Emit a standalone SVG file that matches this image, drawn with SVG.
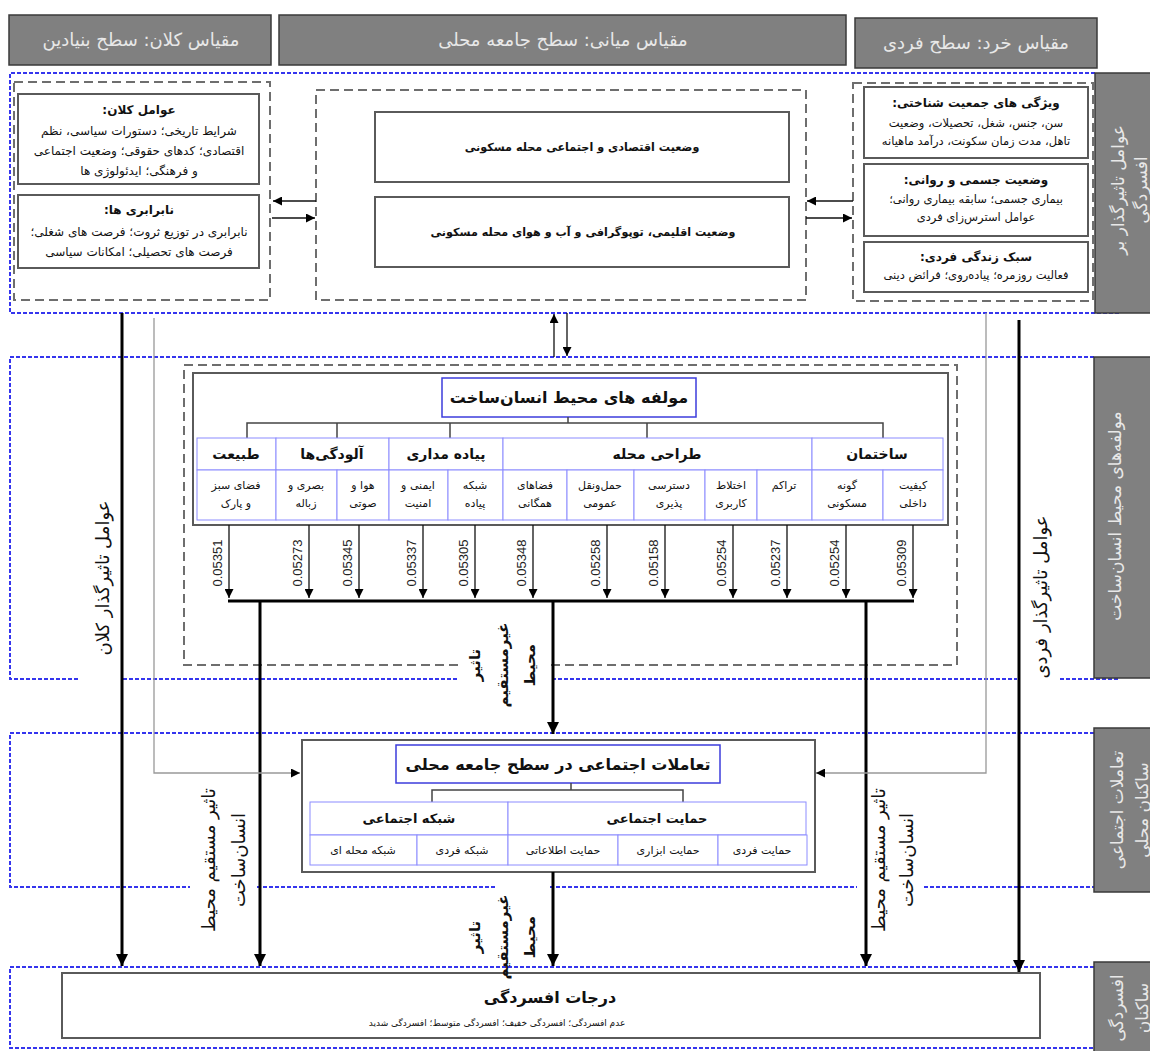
<svg xmlns="http://www.w3.org/2000/svg" width="1150" height="1051" viewBox="0 0 1150 1051">
<defs>
<style>
text{font-family:"DejaVu Sans",sans-serif;fill:#111;}
.fa{direction:rtl;}
.c{text-anchor:middle;}
.r{dominant-baseline:central;}
.hdr{fill:#808080;stroke:#3a3a3a;stroke-width:1.5;}
.ht{fill:#e8e8e8;font-size:18px;}
.st{fill:#e8e8e8;font-size:17px;}
.sec{fill:none;stroke:#3535ee;stroke-width:2;stroke-dasharray:4 2;}
.grp{fill:none;stroke:#6e6e6e;stroke-width:2;stroke-dasharray:9 5;}
.box{fill:#fff;stroke:#5a5a5a;stroke-width:2;}
.cell{fill:#fff;stroke:#8c8cff;stroke-width:1;}
.ttl{fill:#fff;stroke:#3c3cdc;stroke-width:1.5;}
.tree{fill:none;stroke:#444;stroke-width:1.5;}
.thin{fill:none;stroke:#111;stroke-width:1.3;}
.thick{fill:none;stroke:#000;stroke-width:3;}
.gray{fill:none;stroke:#999;stroke-width:1.3;}
.b{font-weight:bold;}
.s9{font-size:9px;}
.s11{font-size:11px;}
.s115{font-size:11.5px;}
.s12{font-size:12px;}
.m{font-size:11.2px;}
.s13{font-size:13px;}
.s14{font-size:14px;}
.s15{font-size:15px;}
.s16{font-size:16px;}
.s17{font-size:17px;}
.s18{font-size:18px;}
.val{font-family:"Liberation Sans",sans-serif;font-size:13px;fill:#222;}
</style>
<marker id="ah" markerUnits="userSpaceOnUse" markerWidth="9" markerHeight="9" refX="9" refY="4.5" orient="auto"><path d="M0,0 L9,4.5 L0,9 z" fill="#000"/></marker>
<marker id="ahb" markerUnits="userSpaceOnUse" markerWidth="12" markerHeight="12" refX="12" refY="6" orient="auto"><path d="M0,0 L12,6 L0,12 z" fill="#000"/></marker>
</defs>
<rect width="1150" height="1051" fill="#fff"/>

<!-- sections -->
<g id="sections">
<path class="sec" d="M1095,73 H10 V313 H1120"/>
<path class="sec" d="M1094,357 H10 V679 H80 M123,679 H458 M552,679 H1017 M1060,679 H1120"/>
<path class="sec" d="M1094,733 H10 V887 H190 M257,887 H495 M550,887 H857 M924,887 H1094"/>
<path class="sec" d="M1094,967 H10 V1048 H1094"/>
</g>

<!-- headers -->
<g id="header-macro"><rect class="hdr" x="9" y="15" width="262" height="50"/><text class="ht fa c" x="141" y="46">مقیاس کلان: سطح بنیادین</text></g>
<g id="header-meso"><rect class="hdr" x="279" y="15" width="567" height="50"/><text class="ht fa c" x="563" y="46">مقیاس میانی: سطح جامعه محلی</text></g>
<g id="header-micro"><rect class="hdr" x="855" y="18" width="242" height="50"/><text class="ht fa c" x="976" y="49">مقیاس خرد: سطح فردی</text></g>

<!-- side labels -->
<g id="side-factors"><rect class="hdr" x="1095" y="73" width="70" height="240"/>
<text class="st fa c r" transform="translate(1118,190) rotate(-90)">عوامل تاثیرگذار بر</text>
<text class="st fa c r" transform="translate(1141,190) rotate(-90)">افسردگی</text></g>
<g id="side-built"><rect class="hdr" x="1094" y="357" width="70" height="321"/>
<text class="st fa c r" transform="translate(1115,516) rotate(-90)">مولفه‌های محیط انسان‌ساخت</text></g>
<g id="side-social"><rect class="hdr" x="1094" y="728" width="70" height="164"/>
<text class="st fa c r" transform="translate(1117,810) rotate(-90)">تعاملات اجتماعی</text>
<text class="st fa c r" transform="translate(1142,810) rotate(-90)">ساکنان محلی</text></g>
<g id="side-depression"><rect class="hdr" x="1094" y="962" width="70" height="100"/>
<text class="st fa c r" transform="translate(1117,1008) rotate(-90)">افسردگی</text>
<text class="st fa c r" transform="translate(1142,1008) rotate(-90)">ساکنان</text></g>

<!-- macro group -->
<g id="macro-group">
<rect class="grp" x="14" y="82" width="256" height="218"/>
<g id="macro-factors"><rect class="box" x="18" y="94" width="241" height="90"/>
<text class="fa c b s12" x="139" y="114">عوامل کلان:</text>
<text class="fa c s12" x="139" y="135">شرایط تاریخی؛ دستورات سیاسی، نظم</text>
<text class="fa c s12" x="139" y="155">اقتصادی؛ کدهای حقوقی؛ وضعیت اجتماعی</text>
<text class="fa c s12" x="139" y="175">و فرهنگی؛ ایدئولوژی ها</text></g>
<g id="inequalities"><rect class="box" x="18" y="195" width="241" height="73"/>
<text class="fa c b s12" x="139" y="214">نابرابری ها:</text>
<text class="fa c s12" x="139" y="236">نابرابری در توزیع ثروت؛ فرصت های شغلی؛</text>
<text class="fa c s12" x="139" y="256">فرصت های تحصیلی؛ امکانات سیاسی</text></g>
</g>

<!-- meso group -->
<g id="meso-group">
<rect class="grp" x="316" y="90" width="490" height="210"/>
<g id="socioeconomic"><rect class="box" x="375" y="112" width="414" height="70"/>
<text class="fa c b m" x="582" y="151">وضعیت اقتصادی و اجتماعی محله مسکونی</text></g>
<g id="climate"><rect class="box" x="375" y="197" width="414" height="70"/>
<text class="fa c b m" x="583" y="236">وضعیت اقلیمی، توپوگرافی و آب و هوای محله مسکونی</text></g>
</g>

<!-- micro group -->
<g id="micro-group">
<rect class="grp" x="853" y="83" width="240" height="218"/>
<g id="demographics"><rect class="box" x="864" y="87" width="224" height="71"/>
<text class="fa c b s12" x="976" y="107">ویژگی های جمعیت شناختی:</text>
<text class="fa c s115" x="976" y="127">سن، جنس، شغل، تحصیلات، وضعیت</text>
<text class="fa c s115" x="976" y="145">تاهل، مدت زمان سکونت، درآمد ماهیانه</text></g>
<g id="health"><rect class="box" x="864" y="164" width="224" height="72"/>
<text class="fa c b s12" x="976" y="184">وضعیت جسمی و روانی:</text>
<text class="fa c s115" x="976" y="203">بیماری جسمی؛ سابقه بیماری روانی؛</text>
<text class="fa c s115" x="976" y="221">عوامل استرس‌زای فردی</text></g>
<g id="lifestyle"><rect class="box" x="864" y="242" width="224" height="50"/>
<text class="fa c b s12" x="976" y="261">سبک زندگی فردی:</text>
<text class="fa c s115" x="976" y="279">فعالیت روزمره؛ پیاده‌روی؛ فرائض دینی</text></g>
</g>

<!-- built environment components -->
<g id="built-environment">
<path class="grp" d="M458,665 H184 V365 H957 V665 H550"/>
<rect class="box" x="193" y="373" width="755" height="152"/>
<rect class="ttl" x="442" y="378" width="254" height="39"/>
<text class="fa c b s16" x="569" y="403">مولفه های محیط انسان‌ساخت</text>
<path class="tree" d="M568,417 V423 M247,438 V423 H883 V438 M337,423 V438 M450,423 V438 M647,423 V438"/>
<g id="categories">
<rect class="cell" x="197" y="438" width="79" height="32"/><text class="fa c b s14" x="236" y="459">طبیعت</text>
<rect class="cell" x="276" y="438" width="113" height="32"/><text class="fa c b s14" x="332" y="459">آلودگی‌ها</text>
<rect class="cell" x="389" y="438" width="114" height="32"/><text class="fa c b s14" x="446" y="459">پیاده مداری</text>
<rect class="cell" x="503" y="438" width="309" height="32"/><text class="fa c b s14" x="657" y="459">طراحی محله</text>
<rect class="cell" x="812" y="438" width="131" height="32"/><text class="fa c b s14" x="877" y="459">ساختمان</text>
</g>
<g id="items">
<rect class="cell" x="197" y="470" width="79" height="50"/><text class="fa c s11" x="236" y="489">فضای سبز</text><text class="fa c s11" x="236" y="507">و پارک</text>
<rect class="cell" x="276" y="470" width="61" height="50"/><text class="fa c s11" x="306" y="489">بصری و</text><text class="fa c s11" x="306" y="507">زباله</text>
<rect class="cell" x="337" y="470" width="52" height="50"/><text class="fa c s11" x="363" y="489">هوا و</text><text class="fa c s11" x="363" y="507">صوتی</text>
<rect class="cell" x="389" y="470" width="59" height="50"/><text class="fa c s11" x="418" y="489">ایمنی و</text><text class="fa c s11" x="418" y="507">امنیت</text>
<rect class="cell" x="448" y="470" width="55" height="50"/><text class="fa c s11" x="475" y="489">شبکه</text><text class="fa c s11" x="475" y="507">پیاده</text>
<rect class="cell" x="503" y="470" width="64" height="50"/><text class="fa c s11" x="535" y="489">فضاهای</text><text class="fa c s11" x="535" y="507">همگانی</text>
<rect class="cell" x="567" y="470" width="67" height="50"/><text class="fa c s11" x="600" y="489">حمل‌ونقل</text><text class="fa c s11" x="600" y="507">عمومی</text>
<rect class="cell" x="634" y="470" width="71" height="50"/><text class="fa c s11" x="669" y="489">دسترسی</text><text class="fa c s11" x="669" y="507">پذیری</text>
<rect class="cell" x="705" y="470" width="52" height="50"/><text class="fa c s11" x="731" y="489">اختلاط</text><text class="fa c s11" x="731" y="507">کاربری</text>
<rect class="cell" x="757" y="470" width="55" height="50"/><text class="fa c s11" x="784" y="489">تراکم</text>
<rect class="cell" x="812" y="470" width="71" height="50"/><text class="fa c s11" x="847" y="489">گونه</text><text class="fa c s11" x="847" y="507">مسکونی</text>
<rect class="cell" x="883" y="470" width="60" height="50"/><text class="fa c s11" x="913" y="489">کیفیت</text><text class="fa c s11" x="913" y="507">داخلی</text>
</g>
</g>

<!-- social interactions -->
<g id="social-interactions">
<rect class="box" x="302" y="740" width="513" height="132"/>
<rect class="ttl" x="396" y="745" width="324" height="38"/>
<text class="fa c b s16" x="558" y="770">تعاملات اجتماعی در سطح جامعه محلی</text>
<path class="tree" d="M571,783 V790 M432,802 V790 H683 V802"/>
<rect class="cell" x="310" y="802" width="198" height="33"/><text class="fa c b s13" x="409" y="823">شبکه اجتماعی</text>
<rect class="cell" x="508" y="802" width="298" height="33"/><text class="fa c b s13" x="657" y="823">حمایت اجتماعی</text>
<rect class="cell" x="310" y="835" width="107" height="30"/><text class="fa c s11" x="363" y="854">شبکه محله ای</text>
<rect class="cell" x="417" y="835" width="91" height="30"/><text class="fa c s11" x="462" y="854">شبکه فردی</text>
<rect class="cell" x="508" y="835" width="110" height="30"/><text class="fa c s11" x="563" y="854">حمایت اطلاعاتی</text>
<rect class="cell" x="618" y="835" width="100" height="30"/><text class="fa c s11" x="668" y="854">حمایت ابزاری</text>
<rect class="cell" x="718" y="835" width="89" height="30"/><text class="fa c s11" x="762" y="854">حمایت فردی</text>
</g>

<!-- depression -->
<g id="depression">
<rect class="box" x="62" y="973" width="978" height="65"/>
<text class="fa c b s16" x="550" y="1003">درجات افسردگی</text>
<text class="fa c s9" x="497" y="1026">عدم افسردگی؛ افسردگی خفیف؛ افسردگی متوسط؛ افسردگی شدید</text>
</g>

<!-- connectors -->
<g id="connectors">
<path class="thin" d="M316,201 H273" marker-end="url(#ah)"/>
<path class="thin" d="M272,218 H315" marker-end="url(#ah)"/>
<path class="thin" d="M853,201 H807" marker-end="url(#ah)"/>
<path class="thin" d="M806,218 H852" marker-end="url(#ah)"/>
<path class="thin" d="M554,357 V314" marker-end="url(#ah)"/>
<path class="thin" d="M567,313 V356" marker-end="url(#ah)"/>
<path class="thin" d="M229,525 V598" marker-end="url(#ah)"/>
<path class="thin" d="M309,525 V598" marker-end="url(#ah)"/>
<path class="thin" d="M359,525 V598" marker-end="url(#ah)"/>
<path class="thin" d="M423,525 V598" marker-end="url(#ah)"/>
<path class="thin" d="M475,525 V598" marker-end="url(#ah)"/>
<path class="thin" d="M533,525 V598" marker-end="url(#ah)"/>
<path class="thin" d="M607,525 V598" marker-end="url(#ah)"/>
<path class="thin" d="M665,525 V598" marker-end="url(#ah)"/>
<path class="thin" d="M733,525 V598" marker-end="url(#ah)"/>
<path class="thin" d="M787,525 V598" marker-end="url(#ah)"/>
<path class="thin" d="M846,525 V598" marker-end="url(#ah)"/>
<path class="thin" d="M913,525 V598" marker-end="url(#ah)"/>
<path class="thick" d="M228,601 H914"/>
<path class="thick" d="M260,601 V966" marker-end="url(#ahb)"/>
<path class="thick" d="M866,601 V966" marker-end="url(#ahb)"/>
<path class="thick" d="M553,601 V734" marker-end="url(#ahb)"/>
<path class="thick" d="M553,872 V966" marker-end="url(#ahb)"/>
<path class="thick" d="M122,313 V966" marker-end="url(#ahb)"/>
<path class="thick" d="M1019,320 V972" marker-end="url(#ahb)"/>
<path class="gray" d="M154,318 V773 H300" marker-end="url(#ah)"/>
<path class="gray" d="M986,313 V773 H816" marker-end="url(#ah)"/>
</g>

<!-- values -->
<g id="values">
<text class="val c r" transform="translate(217,563) rotate(-90)">0.05351</text>
<text class="val c r" transform="translate(297,563) rotate(-90)">0.05273</text>
<text class="val c r" transform="translate(347,563) rotate(-90)">0.05345</text>
<text class="val c r" transform="translate(411,563) rotate(-90)">0.05337</text>
<text class="val c r" transform="translate(463,563) rotate(-90)">0.05305</text>
<text class="val c r" transform="translate(521,563) rotate(-90)">0.05348</text>
<text class="val c r" transform="translate(595,563) rotate(-90)">0.05258</text>
<text class="val c r" transform="translate(653,563) rotate(-90)">0.05158</text>
<text class="val c r" transform="translate(721,563) rotate(-90)">0.05254</text>
<text class="val c r" transform="translate(775,563) rotate(-90)">0.05237</text>
<text class="val c r" transform="translate(834,563) rotate(-90)">0.05254</text>
<text class="val c r" transform="translate(901,563) rotate(-90)">0.05309</text>
</g>

<!-- connector labels -->
<g id="labels">
<text class="fa c r s18" transform="translate(102,578) rotate(-90)">عوامل تاثیرگذار کلان</text>
<text class="fa c r s18" transform="translate(1040,597) rotate(-90)">عوامل تاثیرگذار فردی</text>
<text class="fa c r b s15" transform="translate(475,665) rotate(-90)">تاثیر</text>
<text class="fa c r b s15" transform="translate(503,665) rotate(-90)">غیرمستقیم</text>
<text class="fa c r b s15" transform="translate(530,665) rotate(-90)">محیط</text>
<text class="fa c r b s15" transform="translate(475,937) rotate(-90)">تاثیر</text>
<text class="fa c r b s15" transform="translate(503,937) rotate(-90)">غیرمستقیم</text>
<text class="fa c r b s15" transform="translate(530,937) rotate(-90)">محیط</text>
<text class="fa c r s18" transform="translate(208,860) rotate(-90)">تاثیر مستقیم محیط</text>
<text class="fa c r s18" transform="translate(238,860) rotate(-90)">انسان‌ساخت</text>
<text class="fa c r s18" transform="translate(878,860) rotate(-90)">تاثیر مستقیم محیط</text>
<text class="fa c r s18" transform="translate(906,860) rotate(-90)">انسان‌ساخت</text>
</g>
</svg>
